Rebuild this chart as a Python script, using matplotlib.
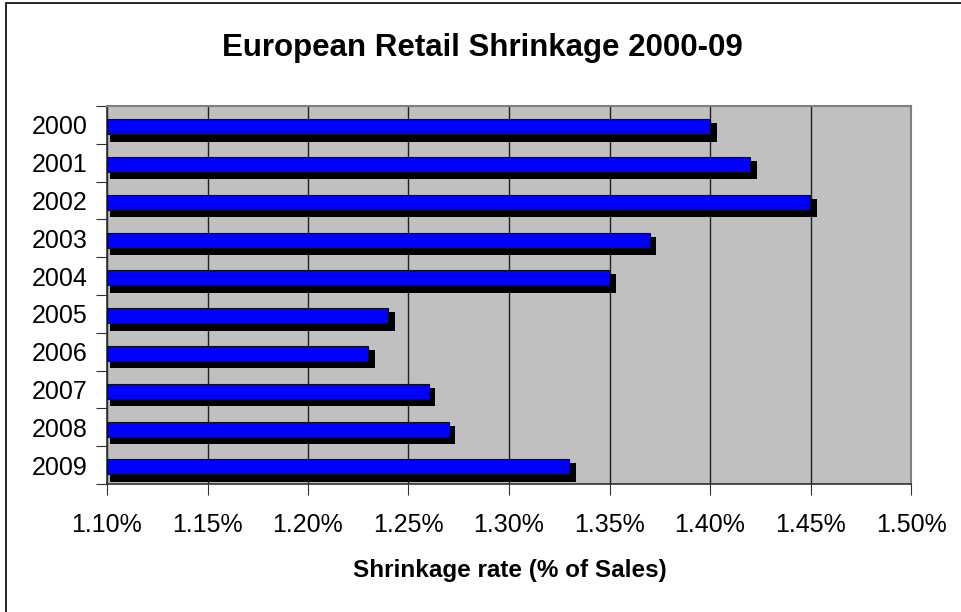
import matplotlib.pyplot as plt
from matplotlib.patches import Rectangle
from matplotlib.ticker import FuncFormatter, MultipleLocator
import numpy as np

plt.rcParams['font.family'] = ['Liberation Sans', 'DejaVu Sans']

# 数据
years = ['2000', '2001', '2002', '2003', '2004', '2005', '2006', '2007', '2008', '2009']
shrinkage = [1.40, 1.42, 1.45, 1.37, 1.35, 1.24, 1.23, 1.26, 1.27, 1.33]
x_min, x_max = 1.10, 1.50

fig = plt.figure(figsize=(9.62, 6.12), dpi=100)
ax = fig.add_axes([107 / 962, 1 - 484 / 612, (911 - 107) / 962, (484 - 106) / 612])
ax.set_facecolor('#c0c0c0')

y = np.arange(len(years))
v = np.array(shrinkage)

# 立体阴影 + 蓝色柱
ax.barh(y + 0.20, v - x_min + 0.0018, left=x_min + 0.0015, height=0.487,
        color='black', zorder=2)
ax.barh(y + 0.05, v - x_min, left=x_min, height=0.397,
        color='#0000ff', edgecolor='#101010', linewidth=0.8, zorder=3)

ax.set_xlim(x_min, x_max)
ax.set_ylim(len(years) - 0.5, -0.5)
ax.xaxis.set_major_locator(MultipleLocator(0.05))
ax.xaxis.set_major_formatter(FuncFormatter(lambda x, p: '%.2f%%' % x))
ax.grid(axis='x', color='#202020', linewidth=1.0, zorder=1)
ax.set_axisbelow(True)

# 分类刻度画在格子边界上
ax.set_yticks(np.arange(len(years) + 1) - 0.5)
ax.set_yticklabels([])
ax.set_yticks(y, minor=True)
ax.set_yticklabels(years, minor=True, fontsize=18)
ax.tick_params(axis='y', which='minor', length=0, pad=14)
ax.tick_params(axis='y', which='major', length=8, direction='out', color='#303030')
ax.tick_params(axis='x', length=8, direction='out', color='#303030', pad=13, labelsize=18)

for s in ['top', 'right']:
    ax.spines[s].set_color('#808080')
    ax.spines[s].set_linewidth(1.5)
for s in ['left', 'bottom']:
    ax.spines[s].set_color('#303030')
    ax.spines[s].set_linewidth(1.2)

fig.text(482 / 962, 1 - 48 / 612, 'European Retail Shrinkage 2000-09',
         ha='center', va='center', fontsize=22.5, fontweight='bold')
fig.text(510 / 962, 1 - 570 / 612, 'Shrinkage rate (% of Sales)',
         ha='center', va='center', fontsize=17.5, fontweight='bold')

# 外框
fig.add_artist(Rectangle((6 / 962, -0.01), 1.0, 1 - 3 / 612 + 0.01,
                         transform=fig.transFigure, fill=False,
                         edgecolor='black', linewidth=1.2))

fig.savefig('out.png', dpi=100)
